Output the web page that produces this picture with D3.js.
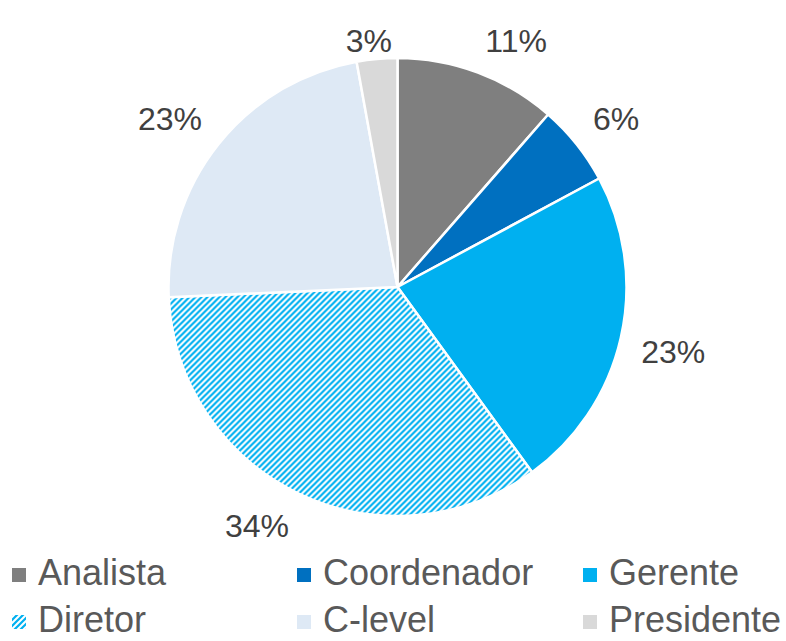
<!DOCTYPE html>
<html lang="pt">
<head>
  <meta charset="UTF-8">
  <title>pie</title>
  <script src="https://cdn.jsdelivr.net/npm/d3@7"></script>
  <style>
    body { margin: 0; background: #fff; }
    text { font-family: "Liberation Sans", Arial, sans-serif; }
  </style>
</head>
<body>
<svg></svg>
<script>
  const width = 786, height = 641

  // dados
  const categories = ['Analista', 'Coordenador', 'Gerente', 'Diretor', 'C-level', 'Presidente']
  const counts = [4, 2, 8, 12, 8, 1]
  const colors = ['#7f7f7f', '#0070c0', '#00b0f0', 'url(#hatch)', '#dee9f5', '#d9d9d9']

  const cx = 397.5, cy = 287, radius = 229

  const svg = d3.select('svg')
      .attr('width', width)
      .attr('height', height)

  // padrão listrado do Diretor
  const pat = svg.append('defs').append('pattern')
      .attr('id', 'hatch')
      .attr('patternUnits', 'userSpaceOnUse')
      .attr('width', 6).attr('height', 6)
  pat.append('rect').attr('width', 6).attr('height', 6).attr('fill', '#fff')
  pat.append('path')
      .attr('d', 'M0,6L6,0M-1,1L1,-1M5,7L7,5')
      .attr('stroke', '#00b0f0')
      .attr('stroke-width', 2.2)

  const data = categories.map((c, i) => ({name: c, value: counts[i], color: colors[i]}))
  const total = d3.sum(counts)

  const arcs = d3.pie().sort(null).value(d => d.value)(data)

  const arc = d3.arc().innerRadius(0).outerRadius(radius)

  const g = svg.append('g').attr('transform', `translate(${cx},${cy})`)

  g.selectAll('path')
      .data(arcs)
      .join('path')
      .attr('d', arc)
      .attr('fill', d => d.data.color)
      .attr('stroke', '#fff')
      .attr('stroke-width', 2.5)
      .attr('stroke-linejoin', 'round')

  // rótulos: o canto mais próximo da caixa fica sobre o raio do meio da fatia
  const gap = 21, textH = 26
  const clamp = v => Math.max(-1, Math.min(1, v))
  g.selectAll('text')
      .data(arcs)
      .join('text')
      .attr('text-anchor', 'middle')
      .attr('dy', '0.36em')
      .attr('font-size', 32)
      .attr('fill', '#404040')
      .text(d => Math.round(d.data.value / total * 100) + '%')
      .attr('transform', function(d) {
        const a = (d.startAngle + d.endAngle) / 2
        const sx = Math.sin(a), sy = -Math.cos(a)
        const w = this.getComputedTextLength()
        const x = sx * (radius + gap) + clamp(3 * sx) * w / 2
        let y = sy * (radius + gap) + clamp(3 * sy) * textH / 2
        y = Math.max(y, 40 - cy) // não deixa sair pelo topo
        return `translate(${x},${y})`
      })

  // legenda
  const colX = [12, 297, 583]
  const rowY = [585, 632]
  const leg = svg.append('g')
      .selectAll('g')
      .data(data)
      .join('g')
      .attr('transform', (d, i) => `translate(${colX[i % 3]},${rowY[Math.floor(i / 3)]})`)
  leg.append('rect')
      .attr('y', -17).attr('width', 14).attr('height', 14)
      .attr('fill', d => d.color)
  leg.append('text')
      .attr('x', 26)
      .attr('font-size', 36)
      .attr('fill', '#595959')
      .text(d => d.name)
</script>
</body>
</html>
